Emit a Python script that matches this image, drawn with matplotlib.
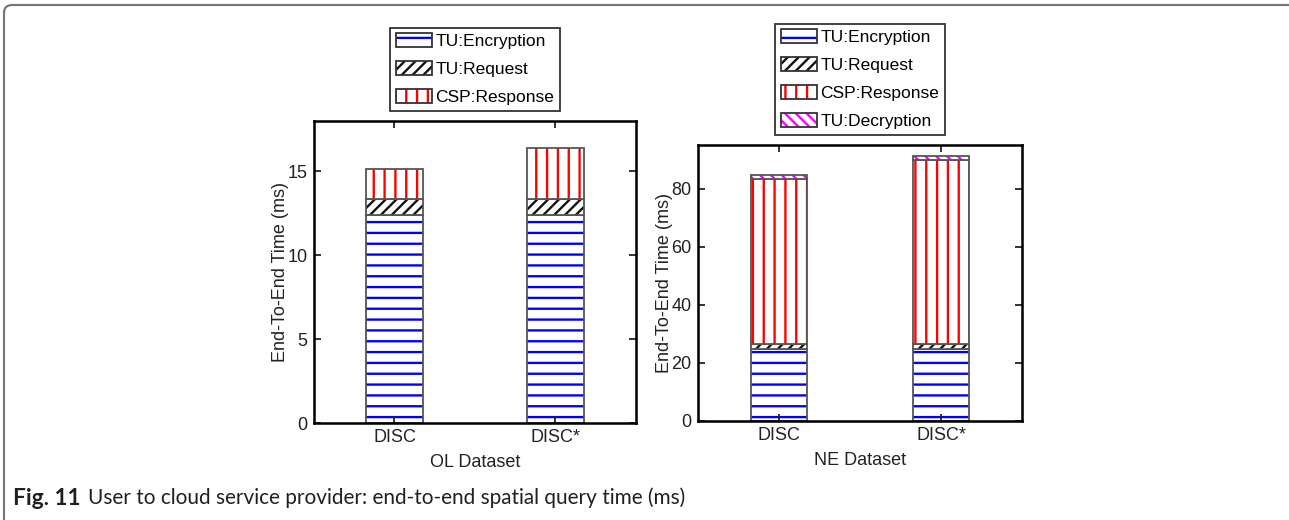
import numpy as np
import matplotlib
matplotlib.use("Agg")
import matplotlib.pyplot as plt
from matplotlib.patches import Patch, FancyBboxPatch
from matplotlib.transforms import IdentityTransform

plt.rcParams['font.family'] = ['Liberation Sans', 'DejaVu Sans']
plt.rcParams['hatch.linewidth'] = 1.3

# data
methods = ["DISC", "DISC*"]
ol_encryption = [12.4, 12.4]
ol_request = [0.95, 0.95]
ol_response = [1.8, 3.05]
ne_encryption = [24.9, 24.9]
ne_request = [1.7, 1.7]
ne_response = [56.8, 63.3]
ne_decryption = [1.4, 1.2]

seg_labels = ["TU:Encryption", "TU:Request", "CSP:Response", "TU:Decryption"]
seg_colors = ["#0000ff", "#111111", "#ff0000", "#ff00ff"]
seg_hatches = ["--", "////", "||", "\\\\\\\\"]

DPI = 130
fig = plt.figure(figsize=(1289 / DPI, 520 / DPI), dpi=DPI)
ax1 = fig.add_axes([0.2436, 0.1865, 0.2498, 0.5808])
ax2 = fig.add_axes([0.5415, 0.1904, 0.2514, 0.5308])


def stacked(ax, series, ylim, yticks, xlabel):
    x = np.arange(1, len(methods) + 1)
    bottom = np.zeros(len(methods))
    handles = []
    for i, vals in enumerate(series):
        vals = np.array(vals)
        ax.bar(x, vals, 0.35, bottom=bottom, color="white",
               edgecolor=seg_colors[i], hatch=seg_hatches[i], linewidth=0)
        ax.bar(x, vals, 0.35, bottom=bottom, fill=False,
               edgecolor="#555555", linewidth=1.0)
        bottom += vals
        handles.append((Patch(facecolor="white", edgecolor=seg_colors[i],
                              hatch=seg_hatches[i], linewidth=0),
                        Patch(fill=False, edgecolor="#333333", linewidth=1.0)))
    ax.set_xlim(0.5, 2.5)
    ax.set_ylim(*ylim)
    ax.set_yticks(yticks)
    ax.set_xticks(x)
    ax.set_xticklabels(methods)
    ax.tick_params(direction="in", top=True, right=True, length=4, width=1,
                   labelsize=10, colors="#222222")
    for s in ax.spines.values():
        s.set_linewidth(1.4)
    ax.set_xlabel(xlabel, fontsize=10, color="#222222")
    ax.set_ylabel("End-To-End Time (ms)", fontsize=10, color="#222222",
                  labelpad=-1)
    leg = ax.legend(handles, seg_labels[:len(series)], loc="lower center",
                    bbox_to_anchor=(0.5, 1.0), borderaxespad=0.6,
                    fontsize=9.6, fancybox=False, framealpha=1,
                    edgecolor="#333333", handlelength=2.1,
                    handleheight=0.85, handletextpad=0.2,
                    labelspacing=0.7, borderpad=0.3)
    leg.get_frame().set_linewidth(1.0)


stacked(ax1, [ol_encryption, ol_request, ol_response], (0, 18),
        [0, 5, 10, 15], "OL Dataset")
stacked(ax2, [ne_encryption, ne_request, ne_response, ne_decryption], (0, 95),
        [0, 20, 40, 60, 80], "NE Dataset")

# outer frame of the figure panel
frame = FancyBboxPatch((4, -30), 1310, 545, boxstyle="round,pad=0,rounding_size=8",
                       transform=IdentityTransform(), fill=False,
                       edgecolor="#777777", linewidth=1.2)
fig.add_artist(frame)

# caption
fig.text(13 / 1289, 0.0423, "Fig. 11", fontfamily="Lato", fontweight="bold",
         fontsize=12.5, va="center", color="#231f20")
fig.text(88 / 1289, 0.0423,
         "User to cloud service provider: end-to-end spatial query time (ms)",
         fontfamily="Lato", fontsize=11.5, va="center", color="#231f20")

fig.savefig("out.png", dpi=DPI)
